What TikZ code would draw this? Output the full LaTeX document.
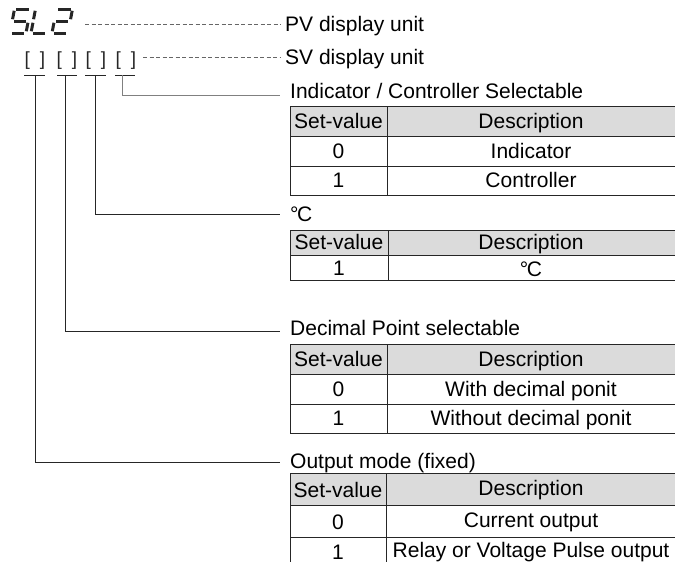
\documentclass[tikz,border=0pt]{standalone}
\usepackage{fontspec}
\setmainfont{Liberation Sans}
\usetikzlibrary{calc,positioning}
\definecolor{linegrey}{gray}{0.15}
\definecolor{headgrey}{gray}{0.86}
\definecolor{seggrey}{gray}{0.15}

\begin{document}
\begin{tikzpicture}[x=1pt,y=-1pt]

\tikzset{labeltext/.style={font=\fontsize{21}{24}\selectfont,inner sep=0pt,anchor=base west},
celltext/.style={font=\fontsize{21}{24}\selectfont,inner sep=0pt,anchor=base},
bracket/.style={font=\fontsize{19}{22}\selectfont,inner sep=0pt,anchor=base,text=black!85},
tabline/.style={draw=linegrey,line width=0.9pt},
dashline/.style={draw=black!60,line width=0.9pt,dash pattern=on 4pt off 2.5pt},
segment/.style={draw=seggrey,line width=3pt,shorten <=1.8pt,shorten >=1.8pt}}

\useasboundingbox (0,0) rectangle (675,562);

% SL2 display (seven segments)
\foreach \d/\ox in {S/10,L/31,T/52} {
  \coordinate (\d tl) at (\ox+4.5,9);  \coordinate (\d tr) at (\ox+20.5,9);
  \coordinate (\d ml) at (\ox+2.25,21); \coordinate (\d mr) at (\ox+18.25,21);
  \coordinate (\d bl) at (\ox,33);     \coordinate (\d br) at (\ox+16,33);
}
\draw[segment] (Stl) -- (Str); \draw[segment] (Stl) -- (Sml); \draw[segment] (Sml) -- (Smr);
\draw[segment] (Smr) -- (Sbr); \draw[segment] (Sbl) -- (Sbr);
\draw[segment] (Ltl) -- (Lml); \draw[segment] (Lml) -- (Lbl); \draw[segment] (Lbl) -- (Lbr);
\draw[segment] (Ttl) -- (Ttr); \draw[segment] (Ttr) -- (Tmr); \draw[segment] (Tml) -- (Tmr);
\draw[segment] (Tml) -- (Tbl); \draw[segment] (Tbl) -- (Tbr);

% display units
\coordinate (pvend) at (85,24);
\node[labeltext] (pvlab) at (285,31) {PV display unit};
\draw[dashline] (pvend) -- ([xshift=-4pt]pvlab.west |- pvend);

\foreach \i/\x in {1/35,2/67,3/96,4/126} \node[bracket] (br\i) at (\x,65) {[\hspace{10pt}]};
\coordinate (svend) at (143,57);
\node[labeltext] (svlab) at (285,64) {SV display unit};
\draw[dashline] (svend) -- ([xshift=-4pt]svlab.west |- svend);

% underlines of the digits
\foreach \xa/\xb in {24/45,57/77,85/106,115/135} \draw[tabline] (\xa,75) -- (\xb,75);
\foreach \i/\x in {1/35,2/65,3/95,4/122} \coordinate (t\i) at (\x,75);

% labels
\node[labeltext] (lab1) at (290,98) {Indicator / Controller Selectable};
\node[labeltext] (lab2) at (290,221) {°\kern-1.5pt C};
\node[labeltext] (lab3) at (290,335) {Decimal Point selectable};
\node[labeltext] (lab4) at (290,468) {Output mode (fixed)};
\coordinate (e1) at (280,95); \coordinate (e2) at (280,214);
\coordinate (e3) at (280,331); \coordinate (e4) at (280,462);

% connectors
\draw[tabline,draw=gray] (t4) |- (e1);
\draw[tabline] (t3) |- (e2);
\draw[tabline] (t2) |- (e3);
\draw[tabline] (t1) |- (e4);

% Table 1
\fill[headgrey] (290,106) rectangle (675,136);
\draw[tabline] (290,106) rectangle (675,195);
\foreach \y in {136,166} \draw[tabline] (290,\y) -- (675,\y);
\draw[tabline] (387,106) -- (387,195);
\node[celltext] (ah) at (338.5,128) {Set-value}; \node[celltext] (ahd) at (531,128) {Description};
\node[celltext] (a0) at (338.5,158) {0};         \node[celltext] (a0d) at (531,158) {Indicator};
\node[celltext] (a1) at (338.5,187.5) {1};       \node[celltext] (a1d) at (531,187.5) {Controller};

% Table 2
\fill[headgrey] (290,230) rectangle (675,255);
\draw[tabline] (290,230) rectangle (675,280);
\draw[tabline] (290,255) -- (675,255);
\draw[tabline] (388,230) -- (388,280);
\node[celltext] (bh) at (339,249.5) {Set-value}; \node[celltext] (bhd) at (531,249) {Description};
\node[celltext] (b1) at (339,275) {1};           \node[celltext] (b1d) at (531,276) {°\kern-1.5pt C};

% Table 3
\fill[headgrey] (290,344) rectangle (675,374);
\draw[tabline] (290,344) rectangle (675,433);
\foreach \y in {374,404} \draw[tabline] (290,\y) -- (675,\y);
\draw[tabline] (387,344) -- (387,433);
\node[celltext] (ch) at (338.5,366) {Set-value}; \node[celltext] (chd) at (531,366) {Description};
\node[celltext] (c0) at (338.5,396) {0};         \node[celltext] (c0d) at (531,396) {With decimal ponit};
\node[celltext] (c1) at (338.5,425.5) {1};       \node[celltext] (c1d) at (531,425.5) {Without decimal ponit};

% Table 4
\fill[headgrey] (290,473) rectangle (675,505);
\draw[tabline] (290,562) -- (290,473) -- (675,473) -- (675,562);
\foreach \y in {505,537} \draw[tabline] (290,\y) -- (675,\y);
\draw[tabline] (386,473) -- (386,562);
\node[celltext] (dh) at (338,497) {Set-value}; \node[celltext] (dhd) at (531,495) {Description};
\node[celltext] (d0) at (338,529) {0};         \node[celltext] (d0d) at (531,527) {Current output};
\node[celltext] (d1) at (338,559) {1};         \node[celltext] (d1d) at (531,557) {Relay or Voltage Pulse output};

\end{tikzpicture}
\end{document}
